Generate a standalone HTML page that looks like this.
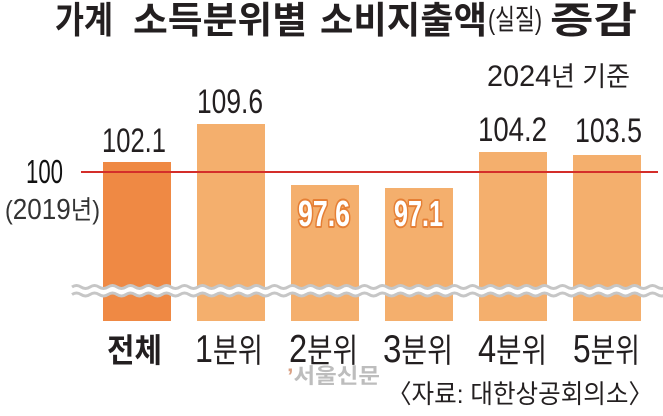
<!DOCTYPE html>
<html>
<head>
<meta charset="utf-8">
<style>
  html,body{margin:0;padding:0;background:#fff;}
  svg{display:block;}
  .k{font-family:"Liberation Sans","Noto Sans CJK KR",sans-serif;}
  .n{font-family:"Liberation Sans",sans-serif;}
</style>
</head>
<body>
<svg width="663" height="416" viewBox="0 0 663 416" xmlns="http://www.w3.org/2000/svg">
  <rect width="663" height="416" fill="#fff"/>

  <!-- Title -->
  <g class="k" fill="#231f20" font-weight="700" font-size="37">
    <text x="55" y="33" textLength="58" lengthAdjust="spacingAndGlyphs">가계</text>
    <text x="133" y="33" textLength="174" lengthAdjust="spacingAndGlyphs">소득분위별</text>
    <text x="320" y="33" textLength="167" lengthAdjust="spacingAndGlyphs">소비지출액</text>
    <text x="488" y="29" font-size="28" font-weight="400" textLength="54" lengthAdjust="spacingAndGlyphs">(실질)</text>
    <text x="550" y="33" textLength="87" lengthAdjust="spacingAndGlyphs">증감</text>
  </g>

  <!-- subtitle -->
  <text class="k" x="487" y="86" font-size="27" fill="#231f20" textLength="143" lengthAdjust="spacingAndGlyphs"><tspan font-size="30">2024</tspan>년 기준</text>

  <!-- bars -->
  <rect x="103" y="162" width="68" height="159" fill="#ef8944"/>
  <rect x="197" y="124" width="68" height="197" fill="#f4af6d"/>
  <rect x="291" y="185" width="68" height="136" fill="#f4af6d"/>
  <rect x="385" y="188" width="68" height="133" fill="#f4af6d"/>
  <rect x="479" y="152" width="68" height="169" fill="#f4af6d"/>
  <rect x="573" y="155" width="68" height="166" fill="#f4af6d"/>

  <!-- baseline 100 -->
  <line x1="81" y1="172" x2="658" y2="172" stroke="#d42e2a" stroke-width="2"/>
  <text class="n" x="26" y="183" font-size="33" fill="#111" textLength="37" lengthAdjust="spacingAndGlyphs">100</text>
  <text class="k" x="5" y="219" font-size="26" fill="#333" textLength="95" lengthAdjust="spacingAndGlyphs">(<tspan font-size="29">2019</tspan>년)</text>

  <!-- value labels -->
  <g class="n" fill="#231f20" font-size="34.5">
    <text x="197" y="113" textLength="66" lengthAdjust="spacingAndGlyphs">109.6</text>
    <text x="102" y="152" textLength="64" lengthAdjust="spacingAndGlyphs">102.1</text>
    <text x="478" y="141" textLength="69" lengthAdjust="spacingAndGlyphs">104.2</text>
    <text x="575" y="142" textLength="67" lengthAdjust="spacingAndGlyphs">103.5</text>
  </g>
  <g class="n" fill="#fff" stroke="#e57f35" stroke-width="4" stroke-linejoin="round" paint-order="stroke" font-size="36" font-weight="700">
    <text x="298" y="226" textLength="52" lengthAdjust="spacingAndGlyphs">97.6</text>
    <text x="394" y="226" textLength="49" lengthAdjust="spacingAndGlyphs">97.1</text>
  </g>

  <!-- break wave -->
  <g fill="none">
    <path d="M72,290.75 q4.5,-3 9,0 t9,0 t9,0 t9,0 t9,0 t9,0 t9,0 t9,0 t9,0 t9,0 t9,0 t9,0 t9,0 t9,0 t9,0 t9,0 t9,0 t9,0 t9,0 t9,0 t9,0 t9,0 t9,0 t9,0 t9,0 t9,0 t9,0 t9,0 t9,0 t9,0 t9,0 t9,0 t9,0 t9,0 t9,0 t9,0 t9,0 t9,0 t9,0 t9,0 t9,0 t9,0 t9,0 t9,0 t9,0 t9,0 t9,0 t9,0 t9,0 t9,0 t9,0 t9,0 t9,0 t9,0 t9,0 t9,0 t9,0 t9,0 t9,0 t9,0 t9,0 t9,0 t9,0 t9,0 t9,0 t9,0" stroke="#fff" stroke-width="8"/>
    <path d="M72,287 q4.5,-3 9,0 t9,0 t9,0 t9,0 t9,0 t9,0 t9,0 t9,0 t9,0 t9,0 t9,0 t9,0 t9,0 t9,0 t9,0 t9,0 t9,0 t9,0 t9,0 t9,0 t9,0 t9,0 t9,0 t9,0 t9,0 t9,0 t9,0 t9,0 t9,0 t9,0 t9,0 t9,0 t9,0 t9,0 t9,0 t9,0 t9,0 t9,0 t9,0 t9,0 t9,0 t9,0 t9,0 t9,0 t9,0 t9,0 t9,0 t9,0 t9,0 t9,0 t9,0 t9,0 t9,0 t9,0 t9,0 t9,0 t9,0 t9,0 t9,0 t9,0 t9,0 t9,0 t9,0 t9,0 t9,0 t9,0" stroke="#c6c6c6" stroke-width="3"/>
    <path d="M72,294.5 q4.5,-3 9,0 t9,0 t9,0 t9,0 t9,0 t9,0 t9,0 t9,0 t9,0 t9,0 t9,0 t9,0 t9,0 t9,0 t9,0 t9,0 t9,0 t9,0 t9,0 t9,0 t9,0 t9,0 t9,0 t9,0 t9,0 t9,0 t9,0 t9,0 t9,0 t9,0 t9,0 t9,0 t9,0 t9,0 t9,0 t9,0 t9,0 t9,0 t9,0 t9,0 t9,0 t9,0 t9,0 t9,0 t9,0 t9,0 t9,0 t9,0 t9,0 t9,0 t9,0 t9,0 t9,0 t9,0 t9,0 t9,0 t9,0 t9,0 t9,0 t9,0 t9,0 t9,0 t9,0 t9,0 t9,0 t9,0" stroke="#c6c6c6" stroke-width="3"/>
  </g>

  <!-- category labels -->
  <g class="k" fill="#231f20" font-size="33">
    <text x="107" y="362" font-weight="700" textLength="55" lengthAdjust="spacingAndGlyphs">전체</text>
    <text x="195" y="362" textLength="68" lengthAdjust="spacingAndGlyphs"><tspan font-size="39">1</tspan>분위</text>
    <text x="289" y="362" textLength="69" lengthAdjust="spacingAndGlyphs"><tspan font-size="39">2</tspan>분위</text>
    <text x="383" y="362" textLength="70" lengthAdjust="spacingAndGlyphs"><tspan font-size="39">3</tspan>분위</text>
    <text x="478" y="362" textLength="69" lengthAdjust="spacingAndGlyphs"><tspan font-size="39">4</tspan>분위</text>
    <text x="573" y="362" textLength="67" lengthAdjust="spacingAndGlyphs"><tspan font-size="39">5</tspan>분위</text>
  </g>

  <!-- watermark -->
  <text class="k" x="287" y="383" font-size="21" font-weight="700" fill="#bdbdbd" textLength="93" lengthAdjust="spacingAndGlyphs"><tspan fill="#d9a184">’</tspan>서울신문</text>

  <!-- source -->
  <text class="k" x="387" y="403" font-size="26" fill="#231f20" textLength="266" lengthAdjust="spacingAndGlyphs">〈자료: 대한상공회의소〉</text>
</svg>
</body>
</html>
